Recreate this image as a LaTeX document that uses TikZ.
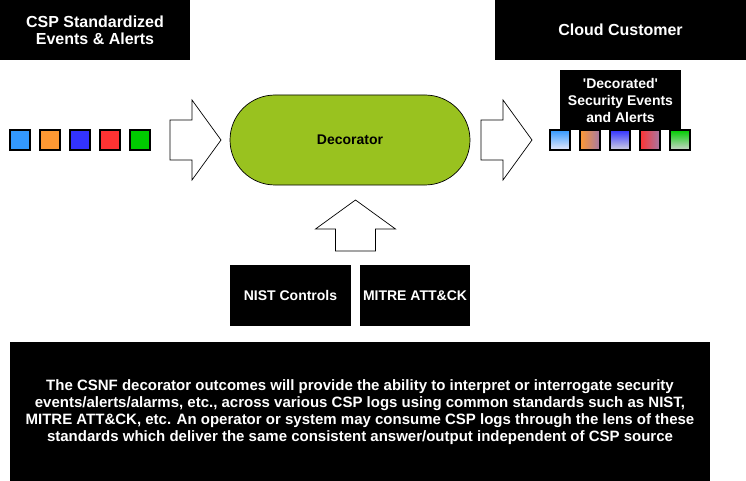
\documentclass[tikz,border=0pt]{standalone}
\usepackage{fontspec}
\setmainfont{Liberation Sans}

\definecolor{decgreen}{RGB}{153,194,31}
\definecolor{evblue}{HTML}{3399FF}
\definecolor{evorange}{HTML}{FF9933}
\definecolor{evindigo}{HTML}{3333FF}
\definecolor{evred}{HTML}{FF3333}
\definecolor{evgreen}{HTML}{00CC00}

\tikzset{
    blackbox/.style={fill=black, text=white, align=center, inner sep=0pt,
        font=\bfseries\fontsize{14}{17}\selectfont},
    eventsq/.style={draw=black, line width=1.2pt, minimum size=20pt, inner sep=0pt},
    fatarrow/.pic={
        \draw[black, line width=0.7pt, fill=white]
            (0,-20) -- (22,-20) -- (22,-40) -- (51,0) -- (22,40) -- (22,20) -- (0,20) -- cycle;
    }
}

\begin{document}
\begin{tikzpicture}[x=1pt, y=-1pt]
    \useasboundingbox (0,0) rectangle (746,481);

    % headings
    \node[blackbox, minimum width=190pt, minimum height=60pt,
        font=\bfseries\fontsize{16}{17}\selectfont] (csp) at (95,30)
        {CSP Standardized\\Events \& Alerts};
    \node[blackbox, minimum width=251pt, minimum height=60pt,
        font=\bfseries\fontsize{16}{17}\selectfont] (customer) at (620.5,30)
        {Cloud Customer};

    % raw events coming from the CSP
    \foreach \col [count=\i from 0] in {evblue, evorange, evindigo, evred, evgreen} {
        \node[eventsq, fill=\col] (raw\i) at ({20+30*\i},140) {};
    }

    \pic at (170,140) {fatarrow};

    \node[draw=black, line width=0.7pt, fill=decgreen, minimum width=240pt, minimum height=90pt,
        rounded corners=45pt, font=\bfseries\fontsize{14}{17}\selectfont] (decorator) at (350,140)
        {Decorator};

    \pic at (481,140) {fatarrow};

    % decorated events, shaded towards the standards colour
    \node[blackbox, minimum width=121pt, minimum height=60pt] (decorated) at (620.5,100)
        {\textquotesingle Decorated\textquotesingle\\Security Events\\and Alerts};
    \node[eventsq, top color=evblue, bottom color=black!20!blue!8] (dec0) at (560,140) {};
    \node[eventsq, left color=evorange, right color=violet!50!gray!70] (dec1) at (590,140) {};
    \node[eventsq, top color=evindigo, bottom color=blue!15!gray!30] (dec2) at (620,140) {};
    \node[eventsq, left color=evred, right color=violet!50!gray!70] (dec3) at (650,140) {};
    \node[eventsq, top color=evgreen, bottom color=green!10!gray!35] (dec4) at (680,140) {};

    % standards feeding the decorator
    \pic[rotate=90] at (355.5,251) {fatarrow};
    \node[blackbox, minimum width=121pt, minimum height=61pt] (nist) at (290.5,295.5)
        {NIST Controls};
    \node[blackbox, minimum width=110pt, minimum height=61pt] (mitre) at (415,295.5)
        {MITRE ATT\&CK};

    \node[blackbox, minimum width=700pt, minimum height=140pt,
        font=\bfseries\fontsize{15}{17}\selectfont] (summary) at (360,412)
        {The CSNF decorator outcomes will provide the ability to interpret or interrogate security\\
         events/alerts/alarms, etc., across various CSP logs using common standards such as NIST,\\
         MITRE ATT\&CK, etc. An operator or system may consume CSP logs through the lens of these\\
         standards which deliver the same consistent answer/output independent of CSP source};
\end{tikzpicture}
\end{document}
